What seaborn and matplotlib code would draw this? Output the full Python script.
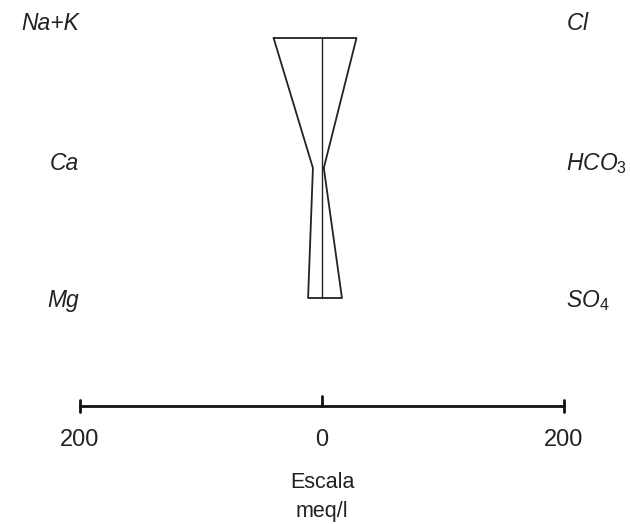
import matplotlib
matplotlib.use("Agg")
import matplotlib.pyplot as plt
import seaborn as sns
import pandas as pd

# Stiff diagram data (meq/l)
cations = ["Na+K", "Ca", "Mg"]
anions = ["Cl", "HCO3", "SO4"]
cation_labels = ["Na+K", "Ca", "Mg"]
anion_labels = ["$Cl$", "$HCO_3$", "$SO_4$"]
cation_values = [40, 7.5, 11.5]
anion_values = [28.5, 1.5, 16.5]
scale_ticks = [-200, 0, 200]
scale_tick_labels = ["200", "0", "200"]
scale_title = ["Escala", "meq/l"]

sns.set_theme(style="white")
plt.rcParams["font.family"] = ["Liberation Sans", "DejaVu Sans"]
plt.rcParams["mathtext.fontset"] = "custom"
plt.rcParams["mathtext.rm"] = "Liberation Sans"
plt.rcParams["mathtext.it"] = "Liberation Sans:italic"

fig = plt.figure(figsize=(6.3, 5.24), dpi=100)
ax = fig.add_axes([0, 0, 1, 1])

px = 242 / 200.0  # pixels per meq
cx = 322
ax.set_xlim(-cx / px, (630 - cx) / px)
ax.set_ylim(524, 0)
ax.axis("off")

ion_y = [38, 168, 298]
label_y = [23, 164, 301]

# polygon outline
xs = [-v for v in cation_values] + anion_values[::-1] + [-cation_values[0]]
ys = ion_y + ion_y[::-1] + [ion_y[0]]
poly = pd.DataFrame({"x": xs, "y": ys})
sns.lineplot(data=poly, x="x", y="y", sort=False, estimator=None,
             color="#222222", linewidth=1.3, ax=ax)
# central line
ax.plot([0, 0], [ion_y[0], ion_y[-1]], color="#222222", linewidth=1.0)

# ion labels
for lab, y in zip(cation_labels, label_y):
    ax.text((79 - cx) / px, y, lab, ha="right", va="center", fontsize=16.5,
            style="italic", color="#222222")
for lab, y in zip(anion_labels, label_y):
    ax.text((566 - cx) / px, y, lab, ha="left", va="center", fontsize=16.5,
            style="italic", color="#222222")

# scale bar
sy = 406
ax.plot([scale_ticks[0], scale_ticks[-1]], [sy, sy], color="#111111", linewidth=2.0)
ax.plot([scale_ticks[0]] * 2, [sy - 6, sy + 6], color="#111111", linewidth=2.0)
ax.plot([scale_ticks[-1]] * 2, [sy - 6, sy + 6], color="#111111", linewidth=2.0)
ax.plot([scale_ticks[1]] * 2, [sy - 10, sy], color="#111111", linewidth=2.0)
for t, lab in zip(scale_ticks, scale_tick_labels):
    ax.text(t, 440, lab, ha="center", va="center", fontsize=17, color="#222222")
ax.text(0, 482, scale_title[0], ha="center", va="center", fontsize=15.5,
        color="#222222")
ax.text(0, 512, scale_title[1], ha="center", va="center", fontsize=15.5,
        color="#222222")

fig.savefig("out.png", dpi=100)
